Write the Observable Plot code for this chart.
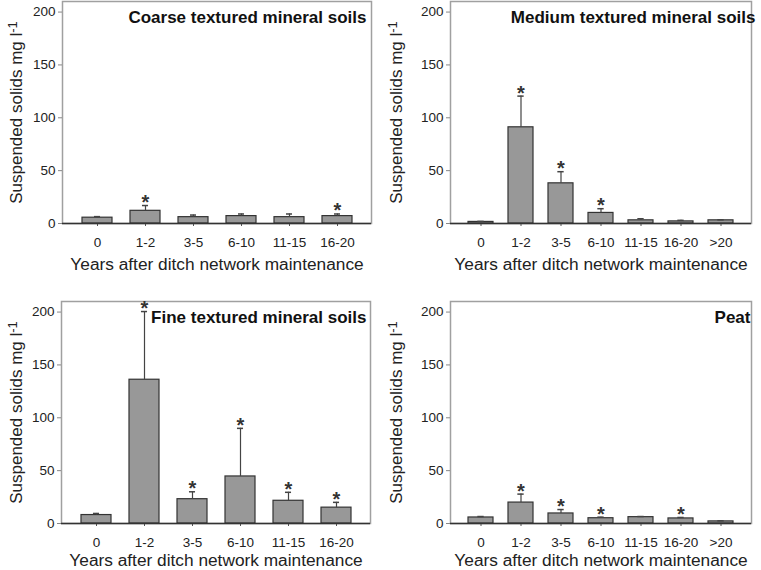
<!DOCTYPE html>
<html>
<head>
<meta charset="utf-8">
<script src="https://cdn.jsdelivr.net/npm/d3@7"></script>
<script src="https://cdn.jsdelivr.net/npm/@observablehq/plot@0.6"></script>
<style>
  html, body { margin: 0; padding: 0; background: white; }
  #wrap { position: relative; width: 761px; height: 570px; overflow: hidden; }
  .panel { position: absolute; }
</style>
</head>
<body>
<div id="wrap"></div>
<script>
// ---- data ----
const cats6 = ["0", "1-2", "3-5", "6-10", "11-15", "16-20"];
const cats7 = ["0", "1-2", "3-5", "6-10", "11-15", "16-20", ">20"];
const yTicks = [0, 50, 100, 150, 200];

const coarseMean = [5.5, 12, 6, 7, 6, 7];
const coarseSE   = [1, 5, 2, 2, 3, 2];
const coarseSig  = [false, true, false, false, false, true];

const mediumMean = [1.5, 91, 38, 10, 3, 2, 3];
const mediumSE   = [0.5, 29.5, 11, 4, 1.5, 1, 0.5];
const mediumSig  = [false, true, true, true, false, false, false];

const fineMean = [8, 136, 23, 44.5, 21.5, 15];
const fineSE   = [1.5, 64.5, 7, 45.5, 8, 5];
const fineSig  = [false, true, true, true, true, true];

const peatMean = [5.7, 19.8, 9.5, 5, 6, 4.8, 2];
const peatSE   = [0.9, 8, 3.7, 1, 0.6, 0.9, 0.5];
const peatSig  = [false, true, true, true, false, true, false];

const titles = ["Coarse textured mineral soils", "Medium textured mineral soils", "Fine textured mineral soils", "Peat"];
const yLabel = "Suspended solids mg l-1";
const xLabel = "Years after ditch network maintenance";

// ---- layout ----
const FONT = "'Liberation Sans', Arial, Helvetica, sans-serif";
const panels = [
  {cats: cats6, mean: coarseMean, se: coarseSE, sig: coarseSig, title: titles[0], left: 0,   top: 0,   width: 380, ml: 62, mr: 9,  mt: 1,  mb: 62, tdx: -5, xdy: 41},
  {cats: cats7, mean: mediumMean, se: mediumSE, sig: mediumSig, title: titles[1], left: 380, top: 0,   width: 381, ml: 70, mr: 10, mt: 1,  mb: 62, tdx: 4,  xdy: 41},
  {cats: cats6, mean: fineMean,   se: fineSE,   sig: fineSig,   title: titles[2], left: 0,   top: 285, width: 380, ml: 61, mr: 10, mt: 16, mb: 47, tdx: -4, xdy: 37},
  {cats: cats7, mean: peatMean,   se: peatSE,   sig: peatSig,   title: titles[3], left: 380, top: 285, width: 381, ml: 70, mr: 10, mt: 16, mb: 47, tdx: -1, xdy: 37}
];

const PAD = 0.38;
const wrap = document.getElementById("wrap");

for (const p of panels) {
  const rows = p.cats.map((c, i) => ({cat: c, mean: p.mean[i], hi: p.mean[i] + p.se[i], sig: p.sig[i]}));
  const step = (p.width - p.ml - p.mr) / p.cats.length;
  const bw = step * (1 - PAD);
  const capInset = (bw - 8) / 2;
  const chart = Plot.plot({
    width: p.width,
    height: 285,
    marginLeft: p.ml,
    marginRight: p.mr,
    marginTop: p.mt,
    marginBottom: p.mb,
    style: {fontFamily: FONT, fontSize: "13.5px", color: "#222", background: "white", overflow: "visible"},
    x: {domain: p.cats, padding: PAD, align: 0.5},
    y: {domain: [0, 210]},
    marks: [
      Plot.frame({stroke: "#a0a0a0", strokeWidth: 1.5}),
      Plot.axisY({ticks: yTicks, tickSize: 4, tickPadding: 3, stroke: "#888", label: null}),
      Plot.axisX({tickSize: 3, tickPadding: 11, stroke: "#555", label: null}),
      Plot.barY(rows, {x: "cat", y: "mean", fill: "#989898", stroke: "#333", strokeWidth: 1.2}),
      Plot.ruleX(rows, {x: "cat", y1: "mean", y2: "hi", stroke: "#444", strokeWidth: 1.2}),
      Plot.tickY(rows, {x: "cat", y: "hi", stroke: "#444", strokeWidth: 1.5, insetLeft: capInset, insetRight: capInset}),
      Plot.text(rows.filter(d => d.sig), {x: "cat", y: "hi", text: () => "*", fontSize: 20, fontWeight: "bold", fill: "#333", dy: -3}),
      Plot.ruleY([0], {stroke: "#333", strokeWidth: 1.5}),
      Plot.text([p.title], {frameAnchor: "top-right", textAnchor: "end", lineAnchor: "middle", dx: p.tdx, dy: 16, fontSize: 17, fontWeight: "bold", fill: "#111"}),
      Plot.text([xLabel], {frameAnchor: "bottom", textAnchor: "middle", lineAnchor: "middle", dy: p.xdy, fontSize: 17.3, fill: "#222"}),
      Plot.text([yLabel], {frameAnchor: "left", textAnchor: "middle", lineAnchor: "middle", dx: -(p.ml - 16), rotate: -90, fontSize: 17, fill: "#222"})
    ]
  });
  // superscript for the unit
  d3.select(chart).selectAll("text").each(function () {
    if (this.textContent === yLabel) {
      const s = d3.select(this);
      s.text("Suspended solids mg l");
      s.append("tspan").attr("dy", "-0.4em").attr("font-size", 13).text("-1");
    }
  });
  const div = document.createElement("div");
  div.className = "panel";
  div.style.left = p.left + "px";
  div.style.top = p.top + "px";
  div.appendChild(chart);
  wrap.appendChild(div);
}
</script>
</body>
</html>
